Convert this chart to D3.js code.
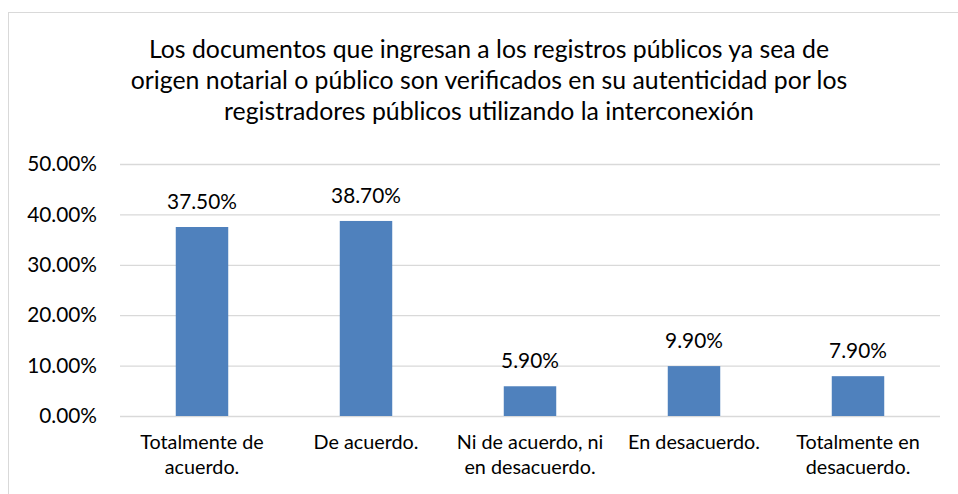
<!DOCTYPE html>
<html>
<head>
<meta charset="utf-8">
<script src="https://cdn.jsdelivr.net/npm/d3@7"></script>
<style>
  body { margin: 0; background: #fff; }
  svg { display: block; font-family: Lato, "Open Sans", sans-serif; }
</style>
</head>
<body>
<div id="chart"></div>
<script>
var titleLines = [
  'Los documentos que ingresan a los registros públicos ya sea de',
  'origen notarial o público son verificados en su autenticidad por los',
  'registradores públicos utilizando la interconexión'
];
var categories = [
  ['Totalmente de', 'acuerdo.'],
  ['De acuerdo.'],
  ['Ni de acuerdo, ni', 'en desacuerdo.'],
  ['En desacuerdo.'],
  ['Totalmente en', 'desacuerdo.']
];
var values = [37.5, 38.7, 5.9, 9.9, 7.9];
var yTicks = [0, 10, 20, 30, 40, 50];

var width = 958, height = 494;
var margin = {left: 120, right: 18, top: 164, bottom: 78};

var svg = d3.select('#chart')
  .append('svg')
  .attr('width', width)
  .attr('height', height);

// chart frame, right and bottom edges fall outside the window
svg.append('rect')
  .attr('x', 8.5).attr('y', 12.5)
  .attr('width', 1000).attr('height', 600)
  .attr('fill', '#fff')
  .attr('stroke', '#d9d9d9');

svg.append('g')
  .selectAll('text')
  .data(titleLines)
  .enter()
  .append('text')
  .attr('x', 489)
  .attr('y', function(d, i) { return 58 + i * 31; })
  .attr('text-anchor', 'middle')
  .attr('font-size', 24.8)
  .attr('fill', '#000')
  .text(function(d) { return d; });

var x = d3.scaleBand()
  .domain(d3.range(categories.length))
  .range([margin.left, width - margin.right])
  .paddingInner(0.68)
  .paddingOuter(0.34);

var y = d3.scaleLinear()
  .domain([0, 50])
  .range([height - margin.bottom, margin.top]);

var grid = svg.append('g')
  .attr('transform', 'translate(' + margin.left + ',0)')
  .call(d3.axisLeft(y)
    .tickValues(yTicks)
    .tickSize(-(width - margin.right - margin.left))
    .tickPadding(23)
    .tickFormat(function(d) { return d.toFixed(2) + '%'; }));

grid.select('.domain').remove();
grid.selectAll('line').attr('stroke', '#d9d9d9').attr('stroke-width', 1.3);
grid.selectAll('text')
  .attr('font-family', 'Lato, sans-serif')
  .attr('font-size', 20.8)
  .attr('fill', '#000');

svg.append('g')
  .selectAll('rect')
  .data(values)
  .enter()
  .append('rect')
  .attr('x', function(d, i) { return x(i); })
  .attr('y', function(d) { return y(d); })
  .attr('width', x.bandwidth())
  .attr('height', function(d) { return y(0) - y(d); })
  .attr('fill', '#4f81bd');

svg.append('g')
  .selectAll('text')
  .data(values)
  .enter()
  .append('text')
  .attr('x', function(d, i) { return x(i) + x.bandwidth() / 2; })
  .attr('y', function(d) { return y(d) - 18; })
  .attr('text-anchor', 'middle')
  .attr('font-size', 20.8)
  .attr('fill', '#000')
  .text(function(d) { return d.toFixed(2) + '%'; });

var cat = svg.append('g')
  .selectAll('text')
  .data(categories)
  .enter()
  .append('text')
  .attr('text-anchor', 'middle')
  .attr('font-size', 19.8)
  .attr('fill', '#000');

cat.selectAll('tspan')
  .data(function(d, i) { return d.map(function(t) { return {t: t, i: i}; }); })
  .enter()
  .append('tspan')
  .attr('x', function(d) { return x(d.i) + x.bandwidth() / 2; })
  .attr('y', function(d, j) { return height - margin.bottom + 33 + j * 25; })
  .text(function(d) { return d.t; });
</script>
</body>
</html>
